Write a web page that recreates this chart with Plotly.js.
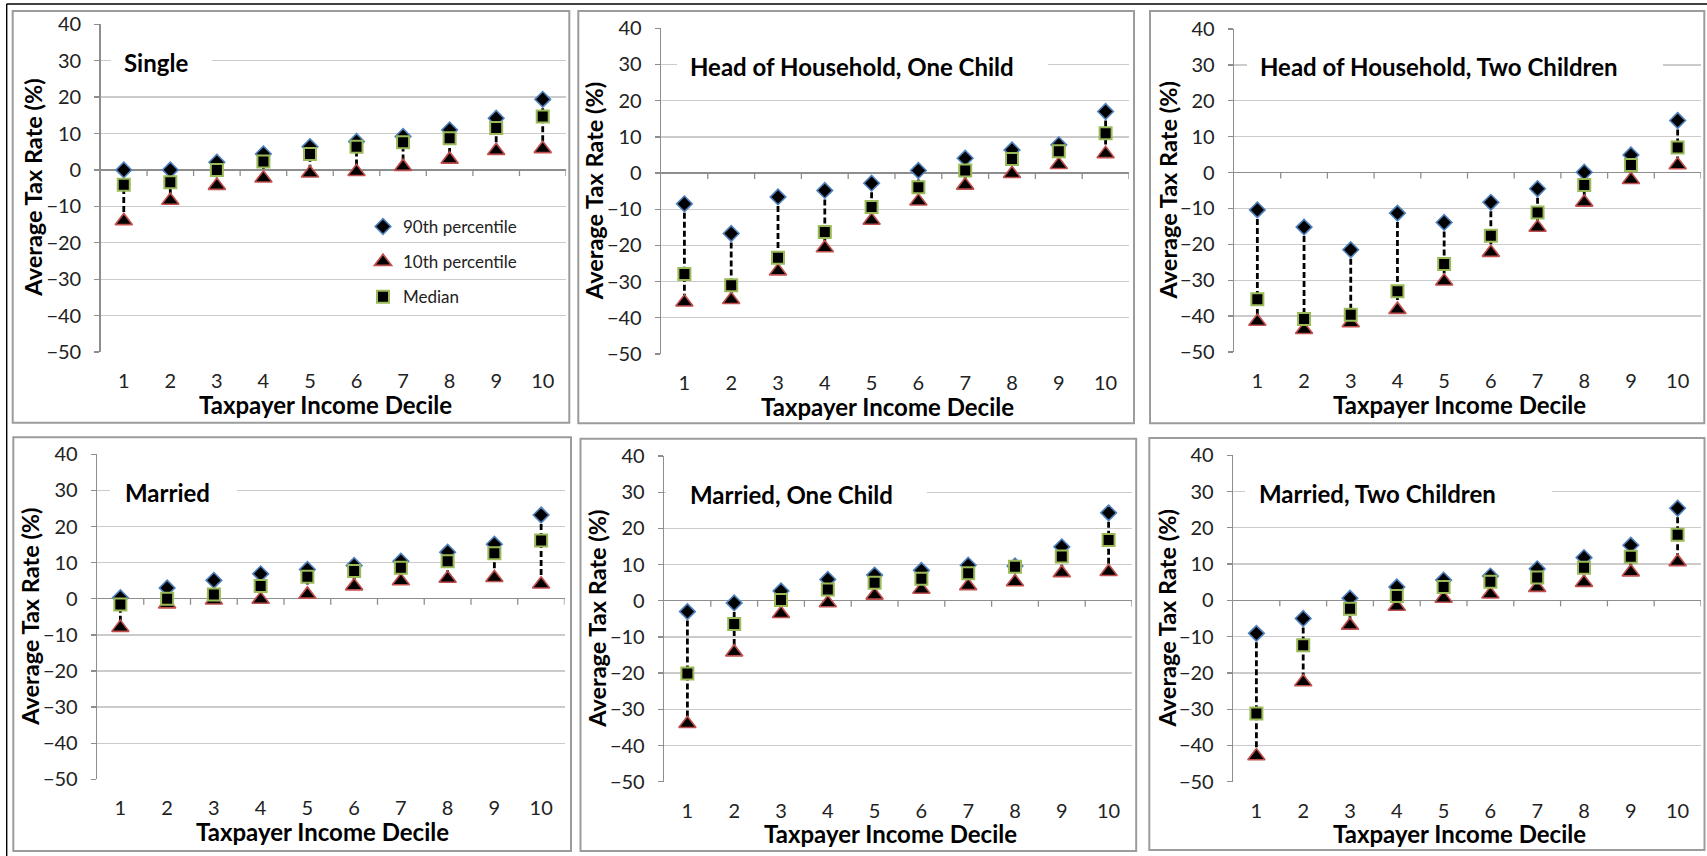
<!DOCTYPE html>
<html>
<head>
<meta charset="utf-8">
<script src="https://cdn.plot.ly/plotly-3.0.1.min.js"></script>
<style>
  html, body { margin: 0; padding: 0; background: #ffffff; }
  #chart { width: 1707px; height: 856px; }
</style>
</head>
<body>
<div id="chart"></div>
<script>
// ---------------- DATA ----------------
const deciles = [1, 2, 3, 4, 5, 6, 7, 8, 9, 10];
const tickLabels = ["1", "2", "3", "4", "5", "6", "7", "8", "9", "10"];
const seriesNames = ["90th percentile", "10th percentile", "Median"];
const panelTitles = ["Single", "Head of Household, One Child", "Head of Household, Two Children",
                     "Married", "Married, One Child", "Married, Two Children"];
const xAxisTitle = "Taxpayer Income Decile";
const yAxisTitle = "Average Tax Rate (%)";
const yTicks = [-50, -40, -30, -20, -10, 0, 10, 20, 30, 40];

const single_p90 = [0.0, 0.0, 2.1, 4.4, 6.4, 7.8, 9.2, 11.0, 14.2, 19.4];
const single_p10 = [-14.0, -8.4, -4.3, -2.3, -0.9, -0.5, 0.9, 2.9, 5.3, 5.8];
const single_med = [-4.1, -3.4, 0.0, 2.3, 4.4, 6.4, 7.6, 8.7, 11.5, 14.7];

const hoh1_p90 = [-8.5, -16.7, -6.6, -4.8, -2.8, 0.7, 4.1, 6.4, 7.8, 17.0];
const hoh1_p10 = [-35.7, -35.0, -27.1, -20.7, -13.1, -7.8, -3.4, -0.2, 2.3, 5.3];
const hoh1_med = [-27.9, -31.0, -23.4, -16.3, -9.4, -3.9, 0.7, 3.9, 6.0, 11.0];

const hoh2_p90 = [-10.4, -15.2, -21.5, -11.3, -13.9, -8.3, -4.5, 0.1, 4.9, 14.5];
const hoh2_p10 = [-41.5, -43.8, -41.9, -38.2, -30.3, -22.3, -15.3, -8.3, -2.0, 2.1];
const hoh2_med = [-35.3, -40.8, -39.6, -33.1, -25.5, -17.6, -11.1, -3.5, 2.1, 7.0];

const married_p90 = [0.3, 3.0, 5.1, 6.9, 8.1, 9.2, 10.4, 12.9, 15.1, 23.2];
const married_p10 = [-8.0, -1.5, -0.4, -0.2, 1.2, 3.5, 4.9, 5.6, 5.8, 4.0];
const married_med = [-1.6, 0.0, 1.2, 3.5, 6.1, 7.7, 8.6, 10.4, 12.6, 16.1];

const married1_p90 = [-3.0, -0.6, 2.7, 5.9, 7.1, 8.4, 9.8, 9.6, 14.9, 24.3];
const married1_p10 = [-34.0, -14.2, -3.6, -0.6, 1.5, 3.1, 4.1, 5.2, 7.7, 8.0];
const married1_med = [-20.1, -6.4, 0.2, 3.1, 5.0, 6.1, 7.6, 9.4, 12.2, 16.8];

const married2_p90 = [-9.1, -5.0, 0.6, 3.7, 5.6, 6.7, 8.7, 11.8, 15.2, 25.4];
const married2_p10 = [-42.9, -22.5, -6.9, -1.7, 0.5, 1.7, 3.5, 4.9, 7.8, 10.6];
const married2_med = [-31.2, -12.4, -2.3, 1.2, 3.7, 5.1, 6.3, 9.0, 12.0, 18.1];

const panelData = [
  [single_p90, single_p10, single_med],
  [hoh1_p90, hoh1_p10, hoh1_med],
  [hoh2_p90, hoh2_p10, hoh2_med],
  [married_p90, married_p10, married_med],
  [married1_p90, married1_p10, married1_med],
  [married2_p90, married2_p10, married2_med]
];

// ---------------- LAYOUT (pixels) ----------------
const W = 1707, H = 856;
// plot: [left, right, top, bottom]; frame: [left, right, top, bottom]; box: white title box [left, right]
const geom = [
  { plot: [100.5, 566.0, 24.3, 352.0], frame: [12.7, 569.3, 11.0, 422.7], box: [111, 212], textLeft: 122 },
  { plot: [661.0, 1129.0, 28.3, 354.0], frame: [578.3, 1134.0, 11.0, 423.3], box: [677, 1048], textLeft: 688 },
  { plot: [1234.0, 1701.0, 29.0, 352.0], frame: [1150.0, 1704.3, 11.0, 423.3], box: [1247, 1663], textLeft: 1258 },
  { plot: [97.0, 564.5, 454.3, 779.3], frame: [13.3, 571.0, 437.3, 851.0], box: [110, 237], textLeft: 123 },
  { plot: [664.0, 1132.0, 456.0, 781.7], frame: [580.5, 1136.2, 438.7, 851.0], box: [666, 927], textLeft: 688 },
  { plot: [1233.0, 1701.0, 455.3, 781.7], frame: [1149.3, 1704.5, 438.0, 850.0], box: [1245, 1552], textLeft: 1257 }
];

const FONT = "Lato, 'Open Sans', 'DejaVu Sans', sans-serif";
const TEXT = "#222222";
const GRID = "#CBCBCB";
const AXIS = "#8E8E8E";
const FRAME = "#9C9C9C";

const markerStyles = [
  { symbol: "diamond", size: 12, color: "#000000", line: { color: "#4F81BD", width: 1.6 } },
  { symbol: "triangle-up", size: 15, color: "#000000", line: { color: "#C0504D", width: 1.6 } },
  { symbol: "square", size: 12, color: "#000000", line: { color: "#9BBB59", width: 2 } }
];
const groups = ["p90", "p10", "med"];

const traces = [];
const layout = {
  width: W, height: H,
  margin: { l: 0, r: 0, t: 0, b: 0 },
  paper_bgcolor: "#ffffff",
  plot_bgcolor: "rgba(0,0,0,0)",
  font: { family: FONT, color: TEXT, size: 19 },
  showlegend: true,
  legend: {
    x: 363 / W, y: 1 - 209 / H, xanchor: "left", yanchor: "top",
    bgcolor: "rgba(0,0,0,0)", borderwidth: 0,
    font: { family: FONT, size: 17, color: TEXT },
    traceorder: "grouped", tracegroupgap: 10, itemwidth: 30
  },
  shapes: [],
  annotations: []
};

geom.forEach((g, i) => {
  const n = i + 1;
  const xa = n === 1 ? "x" : "x" + n;
  const ya = n === 1 ? "y" : "y" + n;
  const xKey = n === 1 ? "xaxis" : "xaxis" + n;
  const yKey = n === 1 ? "yaxis" : "yaxis" + n;
  const [p90, p10, med] = panelData[i];

  // dashed high-low connectors (90th -> 10th)
  const lx = [], ly = [];
  deciles.forEach((d, k) => { lx.push(d, d, null); ly.push(p90[k], p10[k], null); });
  traces.push({
    type: "scatter", mode: "lines", x: lx, y: ly, xaxis: xa, yaxis: ya,
    line: { color: "#000000", width: 2.8, dash: "6px,3px" },
    showlegend: false, hoverinfo: "skip", connectgaps: false
  });

  [p90, p10, med].forEach((vals, s) => {
    traces.push({
      type: "scatter", mode: "markers", x: deciles, y: vals, xaxis: xa, yaxis: ya,
      name: seriesNames[s], legendgroup: groups[s], showlegend: i === 0,
      marker: markerStyles[s]
    });
  });

  const [pl, pr, pt, pb] = g.plot;
  layout[xKey] = {
    domain: [pl / W, pr / W], anchor: ya, range: [0.5, 10.5], type: "linear",
    tickmode: "array", tickvals: deciles, ticktext: tickLabels,
    ticks: "", showline: false, showgrid: false, zeroline: false,
    tickfont: { family: FONT, size: 20, color: TEXT }, ticklabelstandoff: 15,
    fixedrange: true
  };
  layout[yKey] = {
    domain: [1 - pb / H, 1 - pt / H], anchor: xa, range: [-50, 40],
    tickmode: "array", tickvals: yTicks,
    ticks: "outside", ticklen: 5, tickwidth: 1.3, tickcolor: AXIS,
    showline: true, linecolor: AXIS, linewidth: 1.3,
    showgrid: true, gridcolor: GRID, gridwidth: 1.3,
    zeroline: true, zerolinecolor: AXIS, zerolinewidth: 1.3,
    tickfont: { family: FONT, size: 20, color: TEXT }, ticklabelstandoff: 9,
    fixedrange: true
  };

  // chart-area frame
  const [fl, fr, ft, fb] = g.frame;
  layout.shapes.push({
    type: "rect", xref: "paper", yref: "paper",
    x0: fl / W, x1: fr / W, y0: 1 - fb / H, y1: 1 - ft / H,
    line: { color: FRAME, width: 2 }, fillcolor: "rgba(0,0,0,0)", layer: "below"
  });

  // tick marks on the horizontal axis at y = 0, between deciles
  deciles.forEach(d => {
    layout.shapes.push({
      type: "line", xref: xa, yref: ya, ysizemode: "pixel", yanchor: 0,
      x0: d + 0.5, x1: d + 0.5, y0: 0, y1: -6,
      line: { color: AXIS, width: 1.3 }, layer: "above"
    });
  });

  // white box behind the panel title
  layout.shapes.push({
    type: "rect", xref: xa, yref: ya, xsizemode: "pixel", ysizemode: "pixel",
    xanchor: 0.5, yanchor: 30,
    x0: g.box[0] - pl, x1: g.box[1] - pl, y0: -13, y1: 13,
    line: { width: 0 }, fillcolor: "#ffffff", layer: "between"
  });

  // panel title
  layout.annotations.push({
    text: "<b>" + panelTitles[i] + "</b>", showarrow: false,
    xref: xa, yref: ya, x: 0.5, y: 30, xanchor: "left", yanchor: "middle",
    xshift: g.textLeft - pl, yshift: -2,
    font: { family: FONT, size: 24, color: "#000000" }
  });

  // axis titles
  layout.annotations.push({
    text: "<b>" + yAxisTitle + "</b>", showarrow: false, textangle: -90,
    xref: xa + " domain", yref: ya + " domain", x: 0, y: 0.5,
    xanchor: "center", yanchor: "middle", xshift: -67,
    font: { family: FONT, size: 23.5, color: "#000000" }
  });
  layout.annotations.push({
    text: "<b>" + xAxisTitle + "</b>", showarrow: false,
    xref: xa + " domain", yref: ya + " domain", x: 0.5, y: 0,
    xanchor: "center", yanchor: "middle", xshift: -8, yshift: -52,
    font: { family: FONT, size: 24, color: "#000000" }
  });
});

// outer black border (top and left)
layout.shapes.push({
  type: "line", xref: "paper", yref: "paper", x0: 6.7 / W, x1: 1, y0: 1 - 4 / H, y1: 1 - 4 / H,
  line: { color: "#000000", width: 1.4 }
});
layout.shapes.push({
  type: "line", xref: "paper", yref: "paper", x0: 6.7 / W, x1: 6.7 / W, y0: 0, y1: 1 - 4 / H,
  line: { color: "#000000", width: 1.4 }
});

Plotly.newPlot("chart", traces, layout, { displayModeBar: false, staticPlot: true });
</script>
</body>
</html>
